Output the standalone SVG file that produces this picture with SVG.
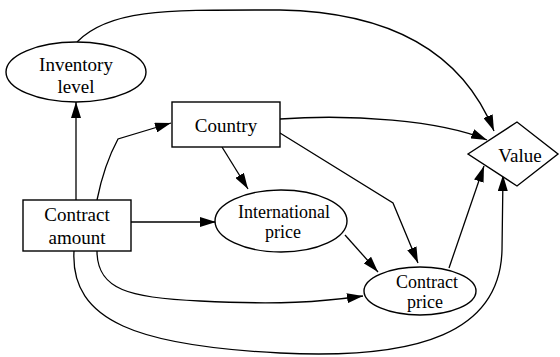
<svg xmlns="http://www.w3.org/2000/svg" width="560" height="357" viewBox="0 0 560 357">
<defs>
<marker id="arr" viewBox="0 0 16 10" refX="16" refY="5" markerWidth="16" markerHeight="10" markerUnits="userSpaceOnUse" orient="auto">
<path d="M0,0 L16,5 L0,10 Z" fill="#000"/>
</marker>
</defs>
<style>
.shape{fill:#fff;stroke:#000;stroke-width:1.4}
.edge{fill:none;stroke:#000;stroke-width:1.3;marker-end:url(#arr)}
text{font-family:"Liberation Serif","Times New Roman",serif;font-size:19px;fill:#000;text-anchor:middle}
.tight{font-size:18px}
</style>
<rect width="560" height="357" fill="#fff"/>
<g id="connectors">
<path class="edge" d="M77,42 C110,8 170,10 280,10 C390,12 462,52 494,131"/>
<path class="edge" d="M76,200 L76,102"/>
<path class="edge" d="M97,200 Q104,165 118,139 L171,123"/>
<path class="edge" d="M222,147 L248,189"/>
<path class="edge" d="M280,119 C350,114 440,120 487,140"/>
<path class="edge" d="M280,133 L393,203 L418,263"/>
<path class="edge" d="M131,222 L216,222"/>
<path class="edge" d="M345,235 L378,272"/>
<path class="edge" d="M97,251 C97,290 130,298 200,301 C280,305 320,302 363,296"/>
<path class="edge" d="M74,251 C70,322 140,346 280,353 C420,360 500,332 502,250 L503,175"/>
<path class="edge" d="M449,268 L484,166"/>
</g>
<g id="inventory-level">
<ellipse class="shape" cx="76" cy="72" rx="70" ry="30"/>
<text x="76" y="71">Inventory</text>
<text x="76" y="93">level</text>
</g>
<g id="country">
<rect class="shape" x="172" y="102" width="108" height="45"/>
<text x="226" y="132">Country</text>
</g>
<g id="contract-amount">
<rect class="shape" x="23" y="200" width="108" height="51"/>
<text x="77" y="221">Contract</text>
<text x="77" y="244">amount</text>
</g>
<g id="international-price">
<ellipse class="shape" cx="281" cy="221" rx="66" ry="31"/>
<text class="tight" x="284" y="218">International</text>
<text class="tight" x="283" y="238">price</text>
</g>
<g id="contract-price">
<ellipse class="shape" cx="420" cy="291" rx="56" ry="24"/>
<text class="tight" x="427" y="288">Contract</text>
<text class="tight" x="425" y="308">price</text>
</g>
<g id="value">
<polygon class="shape" points="468,154 517,122 558,154 517,186"/>
<text x="520" y="162">Value</text>
</g>
</svg>
